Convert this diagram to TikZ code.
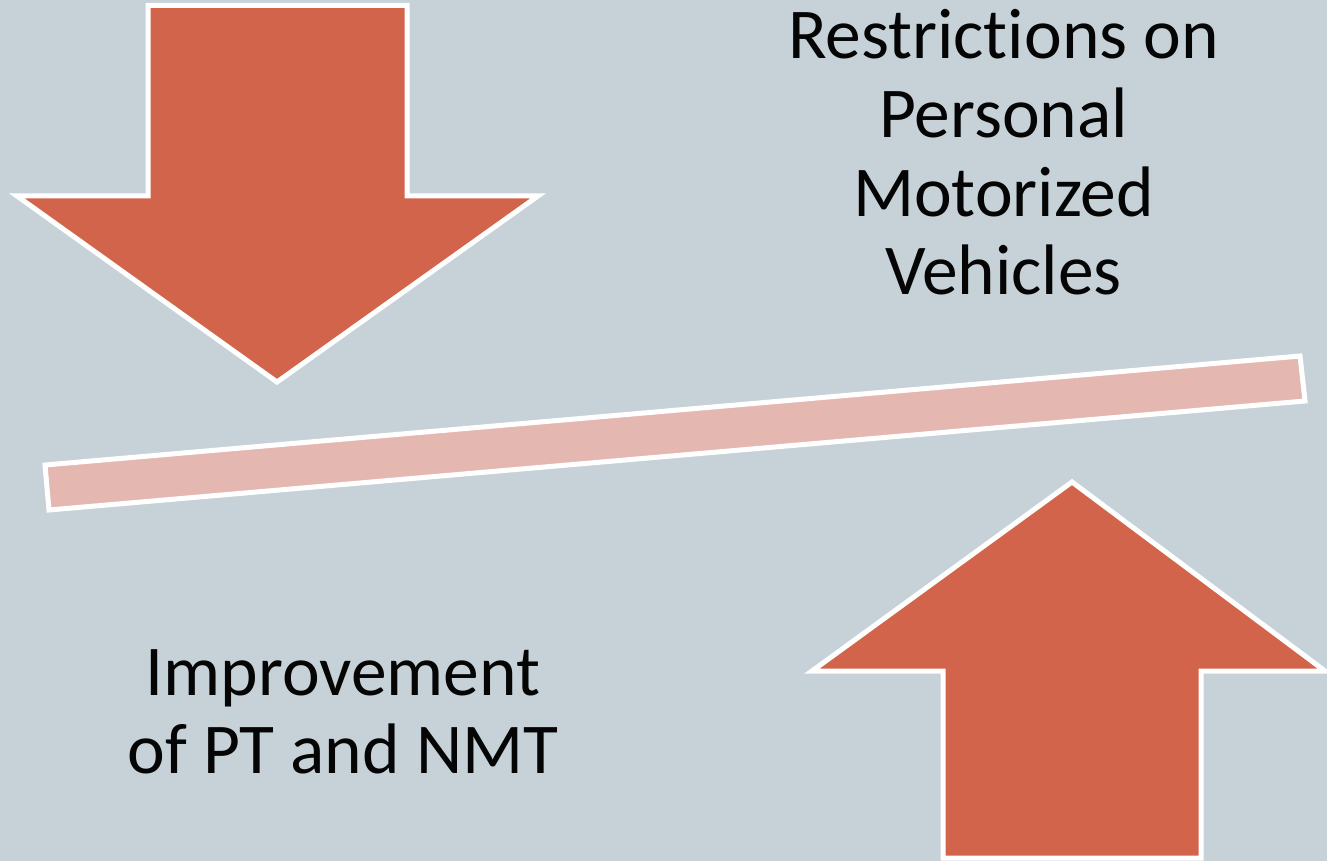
\documentclass[tikz,border=0pt]{standalone}
\usepackage{fontspec}
\setmainfont{Carlito}[Ligatures={NoCommon}]
\definecolor{bgc}{RGB}{198,210,216}
\definecolor{arrowc}{RGB}{210,100,75}
\definecolor{barc}{RGB}{229,183,177}
\definecolor{txtc}{RGB}{5,5,5}
\tikzset{
  shapeout/.style={draw=white, line width=5pt, line join=miter, miter limit=10},
  bigarrow/.style={shapeout, fill=arrowc},
  lever/.style={shapeout, fill=barc},
  label/.style={anchor=base, inner sep=0pt, text=txtc, font=\fontsize{71.5}{78.5}\selectfont}
}
\begin{document}
\begin{tikzpicture}[x=1pt, y=-1pt]
\fill[bgc] (0,0) rectangle (1327,861);
\useasboundingbox (0,0) rectangle (1327,861);
% down arrow
\draw[bigarrow] (148,5.5) -- (407,5.5) -- (407,196) -- (538,196) -- (277,382) -- (17,196) -- (148,196) -- cycle;
% up arrow
\draw[bigarrow] (943,858) -- (943,671) -- (812,671) -- (1072,482) -- (1325,671) -- (1201,671) -- (1201,858) -- cycle;
% lever bar
\draw[lever] (45,465) -- (1300,356) -- (1305,401) -- (49,510) -- cycle;
% texts
\node[label] (r1) at (1003.5,59) {Restrictions on};
\node[label] (r2) at (1003.5,137.5) {Personal};
\node[label] (r3) at (1003.5,216) {Motorized};
\node[label] (r4) at (1003.5,294.5) {Vehicles};
\node[label] (i1) at (343,695) {Improvement};
\node[label] (i2) at (343,773.5) {of PT and NMT};
\end{tikzpicture}
\end{document}
